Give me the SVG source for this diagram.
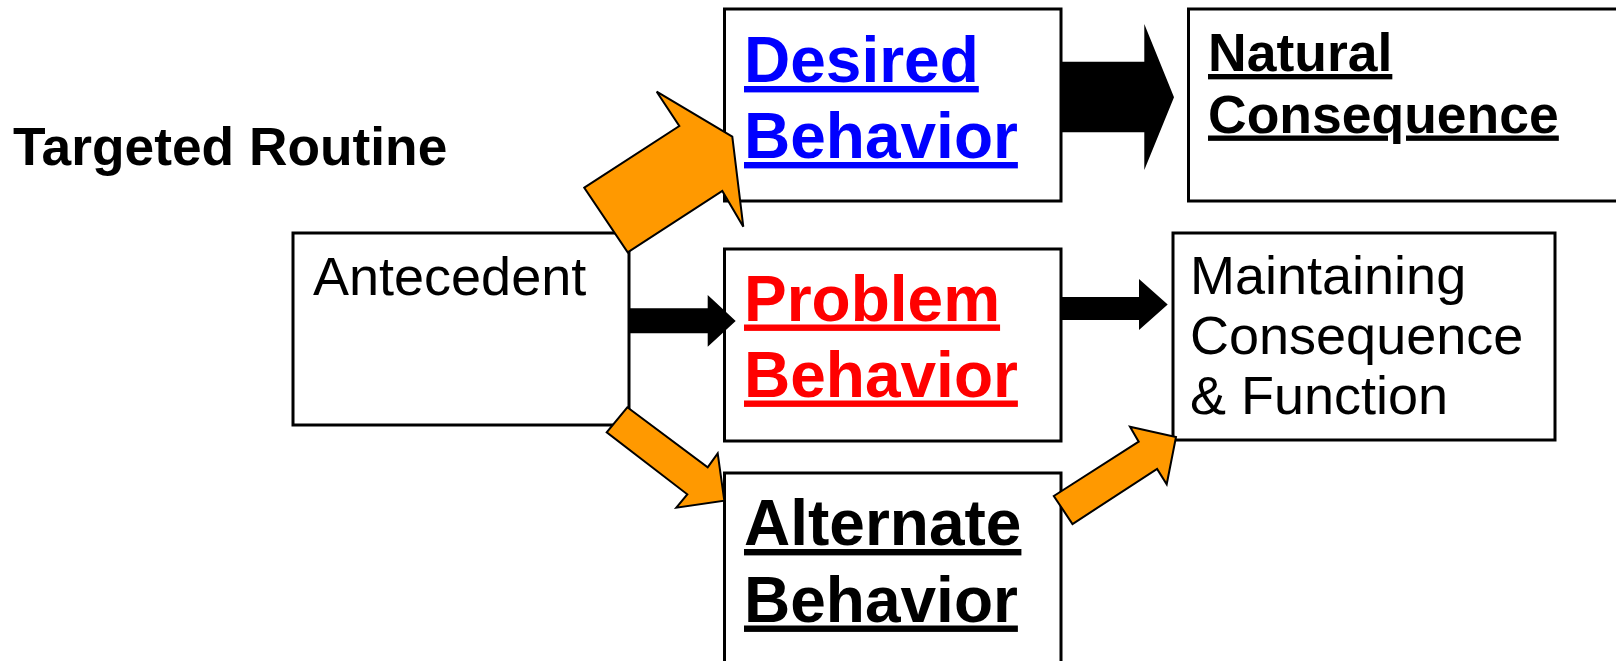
<svg xmlns="http://www.w3.org/2000/svg" width="1616" height="661" viewBox="0 0 1616 661">
<style>
.box{fill:#fff;stroke:#000;stroke-width:3}
.t{font-family:"Liberation Sans",Arial,sans-serif}
.b{font-weight:bold;font-size:64px;text-decoration:underline}
.r{font-size:54px;fill:#000}
.blk{fill:#000}
.org{fill:#FF9900;stroke:#000;stroke-width:2;stroke-linejoin:miter}
</style>
<rect width="1616" height="661" fill="#fff"/>
<g id="title">
<text class="t" x="13" y="165" font-size="53.3" font-weight="bold" fill="#000">Targeted Routine</text>
</g>
<g id="antecedent">
<rect class="box" x="293" y="233" width="336" height="192"/>
<text class="t r" x="313" y="295">Antecedent</text>
</g>
<g id="desired">
<rect class="box" x="724.5" y="9" width="336.5" height="192"/>
<text class="t b" fill="#0000FF"><tspan x="744" y="82">Desired</tspan><tspan x="744" y="158">Behavior</tspan></text>
</g>
<g id="problem">
<rect class="box" x="724.5" y="249" width="336.5" height="192"/>
<text class="t b" fill="#FF0000"><tspan x="744" y="320.5">Problem</tspan><tspan x="744" y="396.5">Behavior</tspan></text>
</g>
<g id="alternate">
<rect class="box" x="724.5" y="473" width="336.5" height="210"/>
<text class="t b" fill="#000"><tspan x="744" y="545">Alternate</tspan><tspan x="744" y="621.5">Behavior</tspan></text>
</g>
<g id="natural">
<rect class="box" x="1188.5" y="9" width="500" height="192"/>
<text class="t" font-weight="bold" font-size="53.5" text-decoration="underline" fill="#000"><tspan x="1208" y="71">Natural</tspan><tspan x="1208" y="132.5">Consequence</tspan></text>
</g>
<g id="maintaining">
<rect class="box" x="1173" y="233" width="382" height="207"/>
<text class="t r"><tspan x="1190" y="294">Maintaining</tspan><tspan x="1190" y="354">Consequence</tspan><tspan x="1190" y="414">&amp; Function</tspan></text>
</g>
<g id="connectors">
<polygon class="blk" points="1061,61.7 1144.3,61.7 1144.3,24 1174,97.3 1144.3,170 1144.3,132.3 1061,132.3"/>
<polygon class="blk" points="629,308.3 707.7,308.3 707.7,295 735.7,321 707.7,346.7 707.7,333.3 629,333.3"/>
<polygon class="blk" points="1061,297 1139,297 1139,279 1167.7,304.5 1139,330 1139,320 1061,320"/>
<polygon class="org" points="584.3,187.7 679.3,126 656.7,91.7 732.3,136.7 743.3,226.7 722.3,191 627.7,252.3"/>
<polygon class="org" points="627.3,407.3 707.7,467.3 717.7,453.3 724.3,500.7 676.3,507.7 687.3,494.3 606.7,432.3"/>
<polygon class="org" points="1053.8,496 1138.7,441.7 1130,426.7 1176,437 1166.7,484.3 1157.1,469 1072.5,524"/>
</g>
</svg>
